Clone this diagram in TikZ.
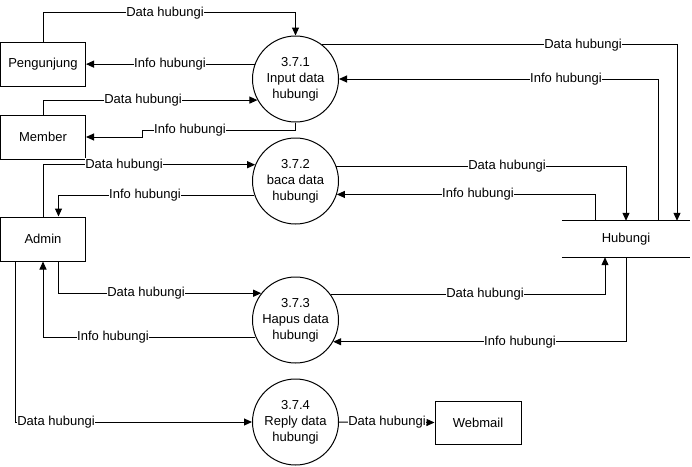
\documentclass[tikz,border=0pt]{standalone}
\usepackage{fontspec}
\setmainfont{Liberation Sans}
\usetikzlibrary{arrows.meta}
\begin{document}
\begin{tikzpicture}[x=1pt,y=-1pt,
  every node/.style={font=\fontsize{13}{16}\selectfont},
  ent/.style={draw,line width=1pt,minimum width=85pt,minimum height=44pt,inner sep=0pt},
  proc/.style={draw,circle,line width=1pt,minimum size=86pt,inner sep=0pt,align=center},
  flow/.style={line width=1pt,-{Triangle[length=8pt,width=7pt]}},
  lbl/.style={fill=white,inner sep=0.5pt}]
\useasboundingbox (0,0) rectangle (692,466);
% entities
\node[ent] (peng) at (43,64) {Pengunjung};
\node[ent] (member) at (43,137) {Member};
\node[ent] (admin) at (43,239) {Admin};
\node[ent,minimum width=86pt,minimum height=43pt] (web) at (478,422.5) {Webmail};
% processes
\node[proc] (p1) at (295.5,79) {3.7.1\\Input data\\hubungi};
\node[proc] (p2) at (295.5,181) {3.7.2\\baca data\\hubungi};
\node[proc] (p3) at (295.5,320) {3.7.3\\Hapus data\\hubungi};
\node[proc] (p4) at (295.5,422) {3.7.4\\Reply data\\hubungi};
% data store
\node[minimum width=128pt,minimum height=36pt,inner sep=0pt] (hub) at (626,239) {Hubungi};
\draw[line width=1pt] (hub.north west) -- (hub.north east);
\draw[line width=1pt] (hub.south west) -- (hub.south east);
% flows
\draw[flow] (peng.north) -- ++(0,-29) -| (p1.north);
\draw[flow] (p1.160) -- (peng.east |- p1.160);
\draw[flow] (member.north) |- (p1.209);
\draw[flow] (p1.south) -- ++(0,8) -| (142,137) -- (member.east);
\draw[flow] (p1.52) -| ([xshift=51pt]hub.north);
\draw[flow] ([xshift=32pt]hub.north) |- (p1.east);
\draw[flow] (p2.20) -| (hub.north);
\draw[flow] ([xshift=-31pt]hub.north) |- (p2.-18);
\draw[flow] (admin.north) |- (p2.158);
\draw[flow] (p2.199) -| ([xshift=15.5pt]admin.north);
\draw[flow] ([xshift=15.5pt]admin.south) |- (p3.142);
\draw[flow] (p3.203) -| (admin.south);
\draw[flow] (p3.36) -| ([xshift=-21pt]hub.south);
\draw[flow] (hub.south) |- (p3.-30);
\draw[flow] ([xshift=-27.5pt]admin.south) |- (p4.west);
\draw[flow] (p4.east) -- (web.west);
% labels
\node[lbl] (l1) at (165,13) {Data hubungi};
\node[lbl] (l2) at (170,64) {Info hubungi};
\node[lbl] (l3) at (143,100) {Data hubungi};
\node[lbl] (l4) at (190,130) {Info hubungi};
\node[lbl] (l5) at (583,45) {Data hubungi};
\node[lbl] (l6) at (566,79) {Info hubungi};
\node[lbl] (l7) at (507,166) {Data hubungi};
\node[lbl] (l8) at (478,194) {Info hubungi};
\node[lbl] (l9) at (124,165) {Data hubungi};
\node[lbl] (l10) at (145,195) {Info hubungi};
\node[lbl] (l11) at (146,293) {Data hubungi};
\node[lbl] (l12) at (113,337) {Info hubungi};
\node[lbl] (l13) at (485,294) {Data hubungi};
\node[lbl] (l14) at (520,342) {Info hubungi};
\node[lbl] (l15) at (56,422) {Data hubungi};
\node[lbl] (l16) at (387,422) {Data hubungi};
\end{tikzpicture}
\end{document}
